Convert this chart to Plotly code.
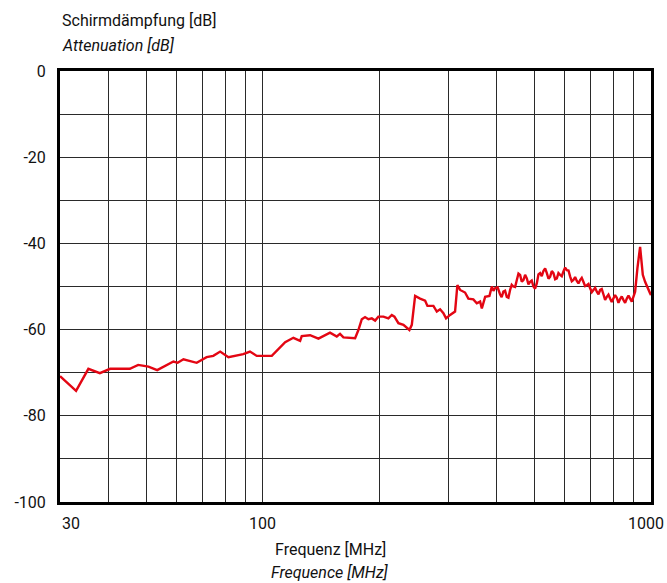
import math
import plotly.graph_objects as go

# Frequency [MHz]
freq = [30, 33.0, 35.5, 38.0, 40.4, 45.4, 47.7, 50.7, 53.4, 56.0, 58.8, 60.3, 62.4, 67.5,
        71.6, 74.5, 77.6, 81.5, 89.0, 92.6, 96.4, 105.4, 114.1, 119.8, 124.7, 125.9, 132.3,
        139.0, 148.9, 155.0, 158.0, 161.2, 167.7, 172.8, 176.2, 179.8, 183.3, 187.0, 190.8,
        194.6, 198.4, 204.4, 210.5, 214.8, 218.2, 223.4, 230.2, 234.9, 238.5, 241.9, 246.7,
        254.1, 261.8, 265.4, 275.0, 280.6, 286.1, 291.8, 296.4, 303.6, 312.7, 317.0, 322.2,
        331.8, 338.4, 348.5, 355.7, 362.8, 366.5, 373.8, 383.4, 388.9, 392.7, 396.5, 402.4,
        408.3, 412.3, 416.4, 420.7, 425.0, 429.2, 433.4, 437.6, 441.9, 446.5, 451.1, 455.5,
        460.0, 464.5, 469.1, 473.8, 478.6, 483.3, 488.0, 492.8, 497.7, 502.7, 507.8, 512.8,
        517.9, 523.0, 528.2, 533.6, 539.0, 544.3, 549.7, 555.1, 560.5, 566.2, 571.9, 577.5,
        583.2, 589.0, 594.8, 600.8, 606.8, 612.9, 619.0, 625.0, 631.0, 637.4, 643.9, 650.2,
        656.6, 663.1, 669.6, 676.4, 683.3, 690.1, 696.9, 703.8, 710.7, 717.9, 725.1, 732.3,
        739.5, 746.7, 754.0, 761.6, 769.3, 776.9, 784.5, 792.2, 800.0, 808.1, 816.3, 824.4,
        832.5, 840.7, 849.0, 857.6, 866.3, 874.9, 883.5, 892.2, 900.9, 910.1, 922.5, 937.4,
        952.5, 965.6, 994.9, 1000]

# Shielding attenuation [dB]
atten = [-70.8, -74.2, -69.1, -70.1, -69.1, -69.1, -68.2, -68.6, -69.4, -68.4, -67.4, -67.7,
         -66.9, -67.7, -66.4, -66.1, -65.1, -66.4, -65.7, -65.1, -66.1, -66.1, -62.9, -61.9,
         -62.6, -61.5, -61.3, -62.1, -60.7, -61.6, -61.0, -61.8, -62.0, -62.0, -60.1, -57.6,
         -57.1, -57.6, -57.4, -57.9, -57.0, -57.0, -57.4, -56.6, -57.0, -58.5, -58.9, -59.7,
         -60.1, -58.9, -52.2, -52.8, -53.3, -54.5, -54.5, -55.8, -55.3, -56.2, -57.4, -56.6,
         -55.8, -49.7, -50.8, -51.4, -52.8, -53.0, -53.9, -53.5, -55.1, -52.4, -52.2, -50.0,
         -51.0, -50.4, -50.2, -51.8, -52.5, -51.2, -51.0, -52.4, -52.6, -50.8, -49.6, -50.0,
         -50.1, -48.5, -47.0, -47.3, -48.9, -48.5, -47.3, -48.1, -49.5, -48.9, -48.6, -50.0,
         -50.5, -49.3, -47.2, -46.9, -47.6, -46.4, -45.8, -46.9, -48.2, -47.7, -46.4, -46.9,
         -48.3, -48.1, -46.9, -47.3, -47.6, -46.5, -45.6, -46.2, -46.3, -47.7, -48.8, -48.5,
         -47.8, -48.7, -49.3, -48.5, -48.0, -48.9, -49.9, -49.7, -49.4, -50.4, -51.3, -50.8,
         -50.3, -51.2, -51.8, -50.8, -50.6, -51.8, -53.1, -52.4, -51.9, -52.8, -53.6, -52.8,
         -52.0, -52.6, -53.8, -52.9, -52.3, -53.1, -53.8, -52.8, -52.1, -52.8, -53.5, -52.4,
         -51.2, -45.8, -40.8, -47.3, -48.9, -51.6, -52.0]

x_grid = [30, 40, 50, 60, 70, 80, 90, 100, 200, 300, 400, 500, 600, 700, 800, 900, 1000]
x_tick_vals = [30, 100, 1000]
x_tick_text = ["30", "100", "1000"]
y_ticks = [0, -20, -40, -60, -80, -100]

FONT = "Roboto, Liberation Sans, sans-serif"
GRID = "#2a2a2a"

fig = go.Figure()
fig.add_trace(go.Scatter(x=freq, y=atten, mode="lines",
                         line=dict(color="#e30613", width=2.4), showlegend=False,
                         hoverinfo="skip"))

fig.update_layout(
    width=667, height=583,
    margin=dict(l=60, r=16, t=71, b=81, autoexpand=False),
    paper_bgcolor="white", plot_bgcolor="white",
    font=dict(family=FONT, size=16, color="#111"),
    xaxis=dict(type="log", range=[1.4771, 3.0],
               tickvals=x_grid, showticklabels=False,
               showgrid=True, gridcolor=GRID, gridwidth=1,
               showline=True, linecolor="black", linewidth=3, mirror=True,
               ticks="", zeroline=False, automargin=False),
    yaxis=dict(range=[-100, 0], tickvals=y_ticks,
               ticktext=[str(v) for v in y_ticks],
               showgrid=True, gridcolor=GRID, gridwidth=1,
               minor=dict(dtick=10, showgrid=True, gridcolor=GRID, gridwidth=1),
               showline=True, linecolor="black", linewidth=3, mirror=True,
               ticks="", zeroline=False, tickfont=dict(size=16), ticklabelstandoff=8,
               automargin=False),
)

anchor_cfg = {"30": ("left", 0), "100": ("center", 0), "1000": ("right", 15)}
for v, t in zip(x_tick_vals, x_tick_text):
    xa, xs = anchor_cfg[t]
    fig.add_annotation(text=t, x=math.log10(v), xref="x", yref="paper",
                       y=0.0, yshift=-21, xanchor=xa, xshift=xs, yanchor="middle",
                       showarrow=False, font=dict(size=16, family=FONT))

fig.add_annotation(text="Schirmdämpfung [dB]", xref="paper", yref="paper",
                   x=0.0, y=1.0, yshift=51, xanchor="left", yanchor="middle",
                   showarrow=False, font=dict(size=16, family=FONT))
fig.add_annotation(text="<i>Attenuation [dB]</i>", xref="paper", yref="paper",
                   x=0.0, y=1.0, yshift=26, xanchor="left", yanchor="middle",
                   showarrow=False, font=dict(size=16, family=FONT))
fig.add_annotation(text="Frequenz [MHz]", xref="paper", yref="paper",
                   x=0.457, y=0.0, yshift=-47, xanchor="center", yanchor="middle",
                   showarrow=False, font=dict(size=16, family=FONT))
fig.add_annotation(text="<i>Frequence [MHz]</i>", xref="paper", yref="paper",
                   x=0.457, y=0.0, yshift=-70, xanchor="center", yanchor="middle",
                   showarrow=False, font=dict(size=16, family=FONT))

fig.write_html("out.html", config={"displayModeBar": False},
               post_script="document.body.style.margin='0';")
